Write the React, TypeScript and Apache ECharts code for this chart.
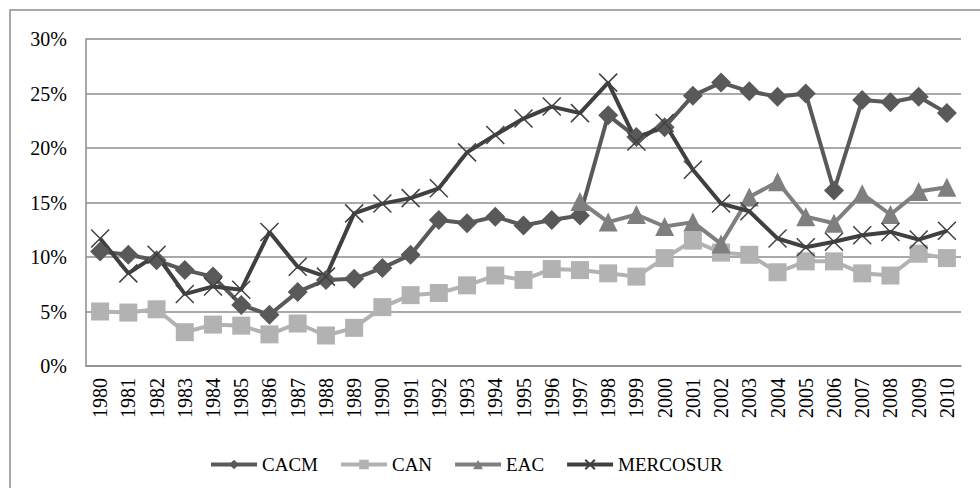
import React, { useEffect, useRef } from "react";
import * as echarts from "echarts";

const years = [
  "1980","1981","1982","1983","1984","1985","1986","1987","1988","1989",
  "1990","1991","1992","1993","1994","1995","1996","1997","1998","1999",
  "2000","2001","2002","2003","2004","2005","2006","2007","2008","2009","2010",
];
const cacm = [10.5,10.2,9.7,8.8,8.2,5.6,4.7,6.8,7.9,8.0,9.0,10.2,13.4,13.1,13.7,12.9,13.4,13.8,23.0,21.0,21.9,24.8,26.0,25.2,24.7,25.0,16.1,24.4,24.2,24.7,23.2];
const can = [5.0,4.9,5.2,3.1,3.8,3.7,2.9,3.9,2.8,3.5,5.4,6.5,6.7,7.4,8.3,7.9,8.9,8.8,8.5,8.2,9.9,11.5,10.4,10.2,8.6,9.6,9.6,8.5,8.3,10.3,9.9];
const eac = [null,null,null,null,null,null,null,null,null,null,null,null,null,null,null,null,null,15.1,13.2,13.9,12.8,13.2,11.2,15.5,16.9,13.7,13.1,15.8,13.9,16.0,16.4];
const mercosur = [11.7,8.5,10.2,6.6,7.3,7.0,12.3,9.1,8.2,14.0,14.9,15.4,16.3,19.6,21.2,22.7,23.8,23.2,26.0,20.6,22.3,18.0,14.9,14.2,11.7,10.9,11.4,12.0,12.3,11.6,12.4];
const yTicks = [0, 5, 10, 15, 20, 25, 30];

const FONT = "Liberation Serif, Times New Roman, serif";

export default function App() {
  const ref = useRef<HTMLDivElement>(null);
  useEffect(() => {
    const chart = echarts.init(ref.current!, null, { renderer: "svg" });
    const mk = (name: string, data: any[], color: string, symbol: string, size: number, extra: any = {}) => ({
      name,
      type: "line",
      data,
      symbol,
      symbolSize: size,
      showAllSymbol: true,
      connectNulls: false,
      lineStyle: { color, width: 4 },
      itemStyle: { color, ...extra },
      emphasis: { disabled: true },
    });
    chart.setOption({
      animation: false,
      backgroundColor: "#ffffff",
      textStyle: { fontFamily: FONT },
      graphic: [
        {
          type: "rect",
          shape: { x: 10, y: 10, width: 990, height: 500 },
          style: { fill: "none", stroke: "#8c8c8c", lineWidth: 1.5 },
          silent: true,
        },
      ],
      grid: { left: 86, top: 39, right: 19, bottom: 122 },
      legend: {
        left: 204,
        top: 450,
        itemWidth: 46,
        itemHeight: 12,
        itemGap: 21,
        lineStyle: { width: 4 },
        textStyle: { fontFamily: FONT, fontSize: 19, color: "#000" },
        data: ["CACM", "CAN", "EAC", "MERCOSUR"],
      },
      xAxis: {
        type: "category",
        data: years,
        boundaryGap: true,
        axisLine: { show: true, lineStyle: { color: "#8c8c8c", width: 1.5 } },
        axisTick: { show: false },
        axisLabel: {
          rotate: 90,
          interval: 0,
          margin: 12,
          fontFamily: FONT,
          fontSize: 20,
          color: "#000",
        },
      },
      yAxis: {
        type: "value",
        min: yTicks[0],
        max: yTicks[yTicks.length - 1],
        interval: 5,
        axisLine: { show: true, lineStyle: { color: "#8c8c8c", width: 1.5 } },
        axisTick: { show: false },
        splitLine: { show: true, lineStyle: { color: "#8c8c8c", width: 1.5 } },
        axisLabel: {
          formatter: "{value}%",
          margin: 19,
          fontFamily: FONT,
          fontSize: 20,
          color: "#000",
        },
      },
      series: [
        mk("CACM", cacm, "#595959", "diamond", 20),
        mk("CAN", can, "#b2b2b2", "rect", 18),
        mk("EAC", eac, "#7f7f7f", "triangle", 19),
        mk("MERCOSUR", mercosur, "#404040", "path://M0,0L10,10M10,0L0,10", 18, {
          borderColor: "#404040",
          borderWidth: 1.5,
        }),
      ],
    });
    return () => chart.dispose();
  }, []);
  return (
    <div
      ref={ref}
      style={{ position: "absolute", left: 0, top: 0, width: 980, height: 488 }}
    />
  );
}
